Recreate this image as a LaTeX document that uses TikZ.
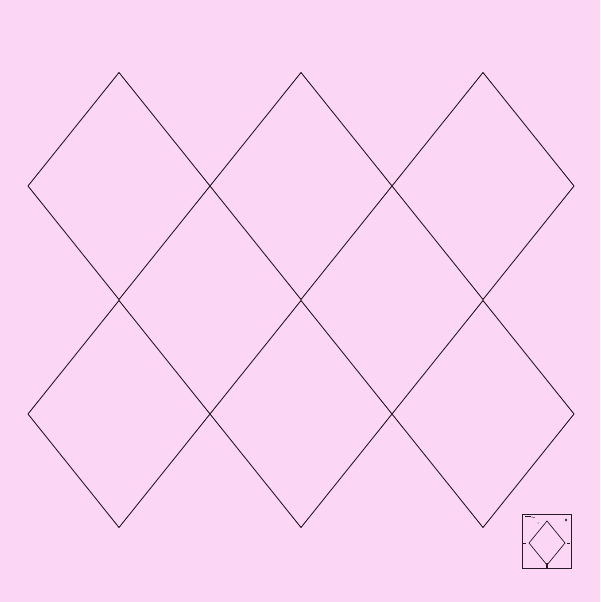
\documentclass[tikz,border=0pt]{standalone}
\usepackage{tikz}
\definecolor{bgpink}{RGB}{251,214,245}
\definecolor{ln}{RGB}{40,25,40}
\tikzset{dia/.style={draw=ln,line width=0.9pt,line join=miter},
  leg/.style={draw=ln,line width=0.7pt}}
\begin{document}
\begin{tikzpicture}[x=1pt,y=-1pt]
\fill[bgpink] (0,0) rectangle (600,602);
\useasboundingbox (0,0) rectangle (600,602);
\foreach \cx in {119,301,483}{
  \foreach \cy in {186,414}{
    \draw[dia] (\cx,\cy-113.5) -- (\cx+91,\cy) -- (\cx,\cy+113.5) -- (\cx-91,\cy) -- cycle;
  }
}
% legend
\draw[leg] (522,514) rectangle (571,568);
\draw[leg] (547,521) -- (565,543) -- (547,565) -- (529,543) -- cycle;
\draw[ln,line width=1.4pt] (547,563) -- (547,568);
\draw[ln,line width=1.2pt] (525,516.5) -- (531,516.5);
\draw[ln,line width=0.4pt] (531,517) -- (535,517.5);
\fill[ln] (566,520) ellipse (1pt and 1.6pt);
\fill[ln] (538,523) circle (0.5pt);
\draw[ln,line width=0.3pt] (523,543) -- (526,543);
\draw[ln,line width=0.3pt] (567,543) -- (570,543);
\end{tikzpicture}
\end{document}
